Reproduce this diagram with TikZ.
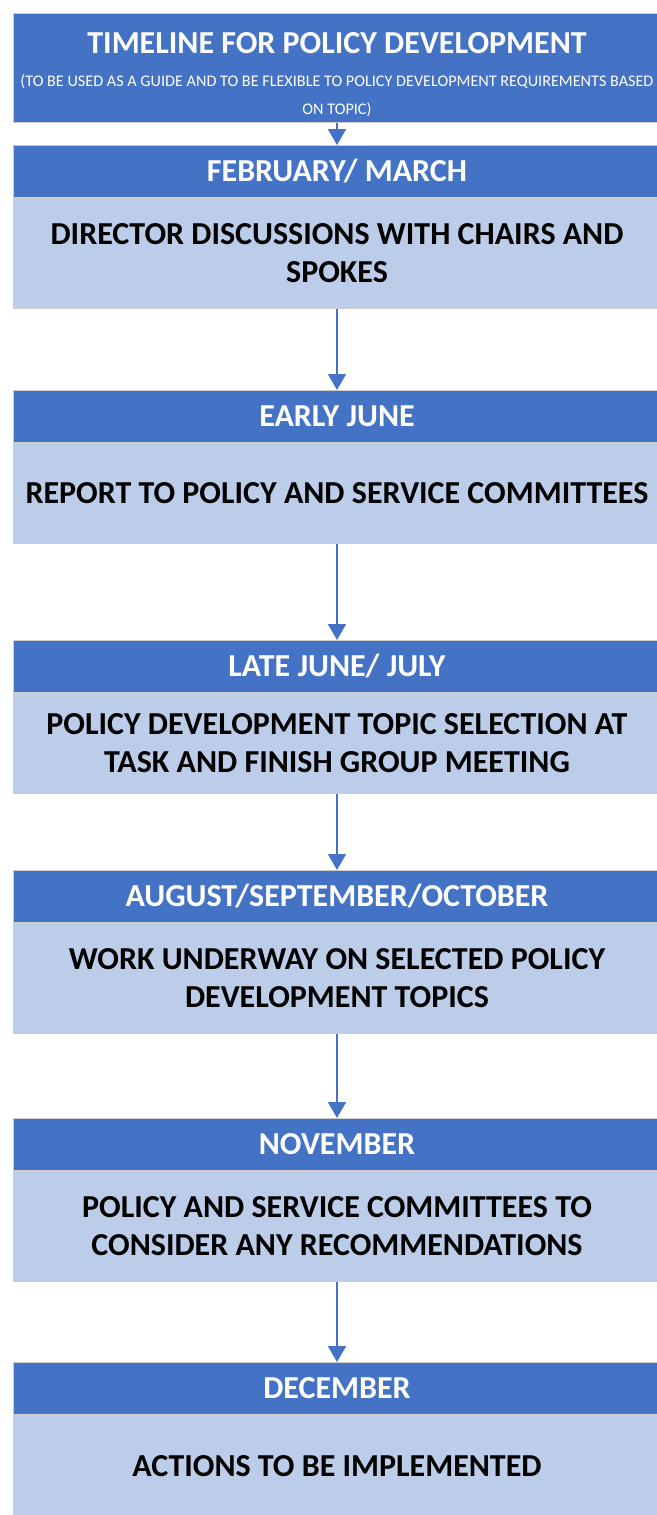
\documentclass[tikz,border=0pt]{standalone}
\usepackage{fontspec}
\setmainfont{Carlito}
\usetikzlibrary{positioning, arrows.meta}
\definecolor{hdblue}{RGB}{68,114,196}
\definecolor{bodyblue}{RGB}{187,205,232}
\definecolor{edgegrey}{RGB}{205,205,205}
\tikzstyle{head} = [draw=edgegrey, fill=hdblue, text=white, align=center,
    font=\bfseries\fontsize{16}{19}\selectfont,
    minimum width=324pt, minimum height=26pt, inner sep=0pt, anchor=north]
\tikzstyle{panel} = [draw=edgegrey, fill=bodyblue, text=black, align=center,
    font=\bfseries\fontsize{16}{19}\selectfont,
    minimum width=324pt, inner sep=0pt, anchor=north]
\tikzstyle{flow} = [draw=hdblue, line width=1pt, -{Triangle[width=9pt,length=8pt,fill=hdblue]}]
\newcommand{\smallnote}{\mdseries\fontsize{8.1}{12.5}\selectfont}

\begin{document}
\begin{tikzpicture}[x=0.5pt, y=-0.5pt]
        \useasboundingbox (0,0) rectangle (657,1515);
        \node[head, minimum height=54.5pt] at (337,13) (title)
            {\rule{0pt}{17pt}TIMELINE FOR POLICY DEVELOPMENT\\[-2.5pt]
             \smallnote (TO BE USED AS A GUIDE AND TO BE FLEXIBLE TO POLICY DEVELOPMENT REQUIREMENTS BASED\\[-5pt]
             \smallnote ON TOPIC)};

        \node[head] at (337,145) (febhd) {FEBRUARY/ MARCH};
        \node[panel, minimum height=55pt, below=0pt of febhd] (febtxt)
            {DIRECTOR DISCUSSIONS WITH CHAIRS AND\\SPOKES};

        \node[head] at (337,390) (junehd) {EARLY JUNE};
        \node[panel, minimum height=50pt, below=0pt of junehd] (junetxt)
            {REPORT TO POLICY AND SERVICE COMMITTEES};

        \node[head] at (337,640) (julyhd) {LATE JUNE/ JULY};
        \node[panel, minimum height=50pt, below=0pt of julyhd] (julytxt)
            {POLICY DEVELOPMENT TOPIC SELECTION AT\\TASK AND FINISH GROUP MEETING};

        \node[head] at (337,870) (augusthd) {AUGUST/SEPTEMBER/OCTOBER};
        \node[panel, minimum height=55pt, below=0pt of augusthd] (augusttxt)
            {WORK UNDERWAY ON SELECTED POLICY\\DEVELOPMENT TOPICS};

        \node[head] at (337,1118) (novhd) {NOVEMBER};
        \node[panel, minimum height=55pt, below=0pt of novhd] (novtxt)
            {POLICY AND SERVICE COMMITTEES TO\\CONSIDER ANY RECOMMENDATIONS};

        \node[head] at (337,1362) (dechd) {DECEMBER};
        \node[panel, minimum height=51pt, below=0pt of dechd] (dectxt)
            {ACTIONS TO BE IMPLEMENTED};

        \draw[flow] (title) -- (febhd);
        \draw[flow] (febtxt) -- (junehd);
        \draw[flow] (junetxt) -- (julyhd);
        \draw[flow] (julytxt) -- (augusthd);
        \draw[flow] (augusttxt) -- (novhd);
        \draw[flow] (novtxt) -- (dechd);
\end{tikzpicture}
\end{document}
